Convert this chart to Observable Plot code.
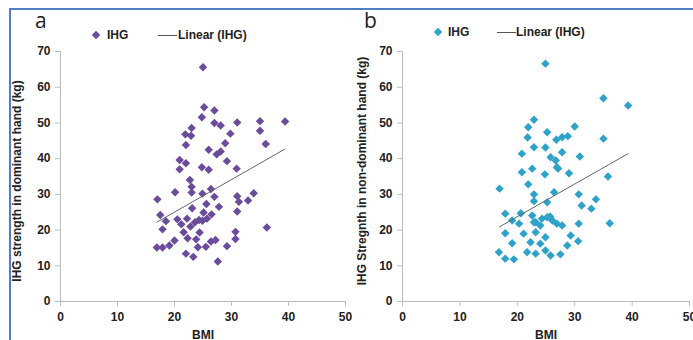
<!DOCTYPE html>
<html><head><meta charset="utf-8">
<script src="https://cdn.jsdelivr.net/npm/d3@7"></script>
<script src="https://cdn.jsdelivr.net/npm/@observablehq/plot@0.6"></script>
<style>
body{margin:0;background:#fff;font-family:"Liberation Sans",Arial,sans-serif;}
#wrap{position:relative;width:693px;height:340px;overflow:hidden;background:#fff;}
.abs{position:absolute;}
.lg{position:absolute;font:bold 12px "Liberation Sans",Arial,sans-serif;color:#222;white-space:nowrap;transform:translateY(-50%);}
.ytitle{position:absolute;font:bold 12px "Liberation Sans",Arial,sans-serif;color:#222;white-space:nowrap;transform:translate(-50%,-50%) rotate(-90deg);}
.letter{position:absolute;font:21px "Open Sans","DejaVu Sans",sans-serif;color:#222;line-height:1;}
.dia{position:absolute;width:6px;height:6px;transform:translate(-50%,-50%) rotate(45deg);}
.ln{position:absolute;height:1px;background:#555;}
</style></head><body><div id="wrap"></div>
<script>
// Panel a: IHG strength in dominant hand (kg) vs BMI
const bmiA = [25.0,25.2,27.0,24.8,27.0,28.1,31.0,35.0,39.4,35.0,29.8,23.0,21.9,22.9,22.0,28.9,36.0,26.0,27.4,28.1,29.2,30.9,20.9,22.0,20.9,24.8,26.0,22.7,23.0,23.0,20.1,17.0,24.9,26.4,27.0,25.6,31.0,31.3,32.9,33.9,31.0,23.1,27.8,25.1,26.5,17.5,18.5,17.9,20.5,22.2,21.2,22.8,23.6,24.9,24.4,21.6,22.3,23.8,20.0,25.7,24.3,30.7,30.7,16.9,17.9,19.1,24.1,25.5,26.4,27.2,29.2,36.2,22.0,23.3,27.6];
const ihgA = [65.6,54.4,53.5,51.6,50.0,49.3,50.1,50.5,50.4,47.8,47.0,48.6,46.8,46.4,43.8,44.3,44.1,42.5,41.2,42.0,39.3,37.2,39.6,38.7,37.0,37.6,36.9,34.0,32.1,30.5,30.6,28.6,30.2,31.5,29.3,27.3,29.5,27.9,28.3,30.3,25.2,26.1,26.5,24.9,24.4,24.2,22.5,20.2,23.0,23.2,21.6,21.0,22.2,22.6,19.3,19.4,17.7,17.4,17.1,23.2,22.8,19.5,17.5,15.1,15.1,15.7,15.2,15.3,16.8,17.2,15.5,20.7,13.4,12.5,11.2];
// Linear (IHG) trend line endpoints, panel a
const trendBmiA = [16.9, 39.4];
const trendIhgA = [22.2, 42.7];
// Panel b: IHG strength in non-dominant hand (kg) vs BMI
const bmiB = [24.9,22.9,21.9,25.2,21.8,22.9,24.9,26.8,27.8,28.8,20.8,25.8,26.7,27.8,26.9,20.8,22.6,24.8,29.0,21.9,16.9,22.9,26.4,22.9,25.2,17.9,20.6,19.1,22.6,25.2,20.3,23.2,24.0,26.1,26.9,27.8,17.9,21.1,23.2,24.9,19.1,22.3,24.0,16.8,17.9,19.4,21.7,23.2,24.9,25.8,27.5,28.7,35.0,39.3,30.0,35.0,30.9,35.8,30.7,31.2,32.9,33.7,30.7,36.1,29.3,30.6,25.7,24.3,22.9,27.1];
const ihgB = [66.6,50.9,48.8,47.4,45.9,43.2,43.1,45.3,46.0,46.3,41.4,40.4,39.5,41.8,37.6,36.2,37.2,35.6,35.9,32.8,31.6,30.0,30.6,28.1,27.8,24.6,24.7,22.7,24.1,23.6,21.8,22.2,21.3,22.7,21.8,21.3,19.1,19.0,19.4,18.0,16.3,16.6,16.2,13.8,12.0,11.8,13.8,13.4,14.3,12.9,13.2,15.7,56.9,54.9,49.0,45.6,40.6,35.0,30.0,26.9,26.0,28.6,21.8,21.9,18.5,16.9,23.8,23.2,22.2,37.2];
// Linear (IHG) trend line endpoints, panel b
const trendBmiB = [16.9, 39.3];
const trendIhgB = [20.9, 41.4];
const xTicks = [0,10,20,30,40,50];
const yTicks = [0,10,20,30,40,50,60,70];
const colorA = "#6a4b9c";
const colorB = "#2ea2c9";

const wrap = document.getElementById("wrap");

function makePanel(bmi, ihg, tb, ti, color, left, width, marginLeft, marginRight) {
  const data = bmi.map((b, i) => ({bmi: b, ihg: ihg[i]}));
  const trend = tb.map((b, i) => ({bmi: b, ihg: ti[i]}));
  const svg = Plot.plot({
    width, height: 340,
    marginLeft, marginRight, marginTop: 51, marginBottom: 39,
    x: {domain: [0, 50]},
    y: {domain: [0, 70]},
    style: {overflow: "visible", background: "transparent", fontFamily: "Liberation Sans, Arial, sans-serif"},
    marks: [
      Plot.ruleY([0], {stroke: "#bdbdbd"}),
      Plot.ruleX([0], {stroke: "#bdbdbd"}),
      Plot.axisX({ticks: xTicks, tickSize: 5, tickPadding: 6, stroke: "#bdbdbd", fill: "#222", fontWeight: "bold", fontSize: 12, tickFormat: d => String(d), label: "BMI", labelAnchor: "center", labelOffset: 37, labelArrow: "none"}),
      Plot.axisY({ticks: yTicks, tickSize: 5, tickPadding: 5, stroke: "#bdbdbd", fill: "#222", fontWeight: "bold", fontSize: 12, tickFormat: d => String(d), label: null}),
      Plot.dot(data, {x: "bmi", y: "ihg", symbol: "diamond2", r: 3.8, fill: color, stroke: null}),
      Plot.line(trend, {x: "bmi", y: "ihg", stroke: "#666", strokeWidth: 1})
    ]
  });
  svg.style.position = "absolute";
  svg.style.left = left + "px";
  svg.style.top = "0px";
  wrap.appendChild(svg);
}

makePanel(bmiA, ihgA, trendBmiA, trendIhgA, colorA, 0, 346, 60, 1);
makePanel(bmiB, ihgB, trendBmiB, trendIhgB, colorB, 346, 347, 56, 4);

function add(html) { wrap.insertAdjacentHTML("beforeend", html); }
// frame
add('<div class="abs" style="left:10px;top:8px;width:683px;height:2px;background:#4f7fc4"></div>');
add('<div class="abs" style="left:9px;top:8px;width:2px;height:332px;background:#4f7fc4"></div>');
// panel letters
add('<div class="letter" style="left:35px;top:10px">a</div>');
add('<div class="letter" style="left:364px;top:10px">b</div>');
// legends
add(`<div class="dia" style="left:96px;top:35px;background:${colorA}"></div>`);
add('<div class="lg" style="left:107px;top:35px">IHG</div>');
add('<div class="ln" style="left:158px;top:35px;width:19px"></div>');
add('<div class="lg" style="left:178px;top:35px">Linear (IHG)</div>');
add(`<div class="dia" style="left:438px;top:32px;background:${colorB}"></div>`);
add('<div class="lg" style="left:448px;top:32px">IHG</div>');
add('<div class="ln" style="left:497px;top:32px;width:19px"></div>');
add('<div class="lg" style="left:516px;top:32px">Linear (IHG)</div>');
// y titles
add('<div class="ytitle" style="left:17px;top:181px">IHG strength in dominant hand (kg)</div>');
add('<div class="ytitle" style="left:362px;top:171px">IHG Stregnth in non-dominant hand (kg)</div>');
</script>
</body></html>
